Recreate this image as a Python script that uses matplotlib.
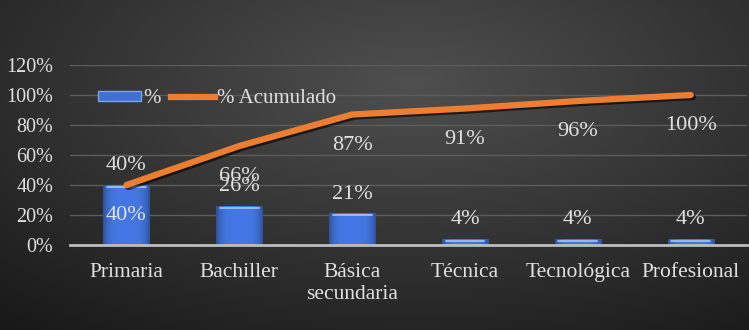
import matplotlib.pyplot as plt
import matplotlib.patheffects as pe
from matplotlib.patches import Patch
from matplotlib.lines import Line2D
import numpy as np

categories = ['Primaria', 'Bachiller', 'Básica\nsecundaria', 'Técnica', 'Tecnológica', 'Profesional']
pct = [0.40, 0.26, 0.21, 0.04, 0.04, 0.04]
cum = [0.40, 0.66, 0.87, 0.91, 0.96, 1.00]
pct_labels = ['40%', '26%', '21%', '4%', '4%', '4%']
cum_labels = ['40%', '66%', '87%', '91%', '96%', '100%']

plt.rcParams['font.family'] = ['Liberation Serif', 'DejaVu Serif']
txt = '#e0e0e0'

fig = plt.figure(figsize=(7.49, 3.3), dpi=100)

# dark radial background
bg = fig.add_axes([0, 0, 1, 1], zorder=-10)
yy, xx = np.mgrid[0:1:330j, 0:1:749j]
d = np.sqrt(((xx - 0.55) / 0.8) ** 2 + ((yy - 0.25) / 0.9) ** 2)
g = np.clip(0.31 - 0.2 * d, 0.1, 0.31)
bg.imshow(np.dstack([g, g, g]), aspect='auto', extent=[0, 1, 0, 1], origin='upper')
bg.axis('off')

ax = fig.add_axes([0.0935, 0.2576, 0.904, 0.5454])
ax.patch.set_alpha(0)
x = np.arange(len(categories))

bars = ax.bar(x, pct, width=0.41, color='#3f6fd1', zorder=3)
# soft horizontal shading on each bar
shade = np.linspace(-1, 1, 50)
shade = 1 - 0.35 * shade ** 4
cmap_img = np.zeros((1, 50, 3))
cmap_img[0, :, 0] = 0.22 * shade + 0.05
cmap_img[0, :, 1] = 0.42 * shade + 0.05
cmap_img[0, :, 2] = 0.82 * shade + 0.08
for b in bars:
    x0, w, h = b.get_x(), b.get_width(), b.get_height()
    im = ax.imshow(cmap_img, extent=[x0, x0 + w, 0, h], aspect='auto', zorder=3.5)
    im.set_clip_path(b)
    ax.plot([x0 + w * 0.08, x0 + w * 0.92], [h - 0.012, h - 0.012], color='#a9c4f5',
            lw=1.2, zorder=4, solid_capstyle='round')

ax.plot(x, cum, color='#ed7d31', lw=4.5, zorder=5, solid_capstyle='round',
        path_effects=[pe.SimpleLineShadow(offset=(1.5, -1.5), shadow_color='black', alpha=0.6),
                      pe.Normal()])

for i in range(len(x)):
    ax.annotate(pct_labels[i], (x[i], pct[i]), xytext=(0, 14), textcoords='offset points',
                ha='center', va='center', color=txt, fontsize=16, zorder=6)
    ax.annotate(cum_labels[i], (x[i], cum[i]), xytext=(0, -22), textcoords='offset points',
                ha='center', va='center', color=txt, fontsize=16, zorder=6)

ax.set_xlim(-0.5, 5.5)
ax.set_ylim(0, 1.2)
ax.set_yticks(np.arange(0, 1.21, 0.2))
ax.set_yticklabels([f'{int(round(v * 100))}%' for v in np.arange(0, 1.21, 0.2)], fontsize=14.5)
ax.set_xticks(x)
ax.set_xticklabels(categories, linespacing=1.2, fontsize=15.5)
ax.tick_params(axis='both', length=0, colors=txt)
ax.tick_params(axis='y', pad=12)
ax.tick_params(axis='x', pad=13)
ax.grid(axis='y', color='#5c5c5c', lw=1)
ax.set_axisbelow(True)
for s in ['top', 'right', 'left']:
    ax.spines[s].set_visible(False)
ax.spines['bottom'].set_color('#bdbdbd')
ax.spines['bottom'].set_linewidth(2)
ax.spines['bottom'].set_zorder(4)

handles = [Patch(facecolor='#3f6fd1', edgecolor='#7fa3e8'),
           Line2D([0], [0], color='#ed7d31', lw=4.5)]
ax.legend(handles, ['%', '% Acumulado'], loc='upper left', bbox_to_anchor=(0.013, 0.97),
          ncol=2, frameon=False, fontsize=15, labelcolor=txt, handlelength=2.1,
          handleheight=0.35, columnspacing=0.5, handletextpad=0.1)

fig.savefig('out.png', dpi=100)
